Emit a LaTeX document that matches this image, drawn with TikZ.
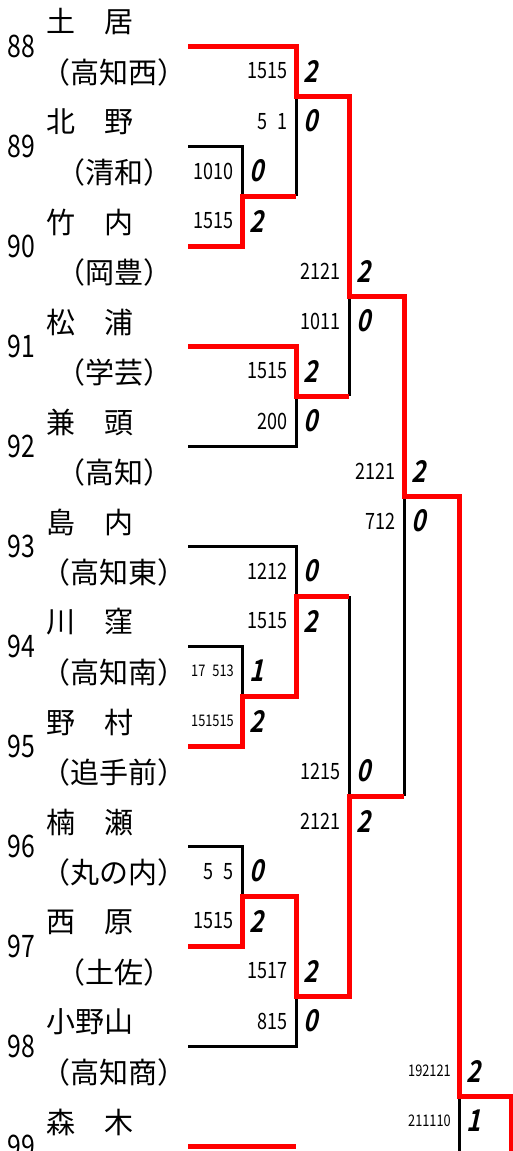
\documentclass[tikz,border=0pt]{standalone}
\usepackage{fontspec}
\setmainfont{Noto Sans CJK JP}
\newfontfamily\numfont[FakeStretch=0.8]{Noto Sans CJK JP}
\newfontfamily\pointfont[FakeSlant=0.22,FakeStretch=0.8]{Noto Sans CJK JP Bold}
\begin{document}
\begin{tikzpicture}[x=1pt,y=-1pt,
    win/.style={red,line width=5pt},
    lose/.style={black,line width=3pt},
    seed/.style={inner sep=0pt,font=\numfont\fontsize{31}{31}\selectfont},
    player/.style={inner sep=0pt,anchor=west,font=\fontsize{29}{29}\selectfont},
    school/.style={inner sep=0pt,font=\fontsize{29}{29}\selectfont},
    game/.style={inner sep=0pt,anchor=east,font=\numfont\fontsize{22.5}{22.5}\selectfont},
    smallgame/.style={inner sep=0pt,anchor=east,font=\numfont\fontsize{16}{16}\selectfont},
    point/.style={inner sep=0pt,anchor=west,font=\pointfont\fontsize{30}{30}\selectfont}]

\useasboundingbox (0,0) rectangle (513,1151);
\clip (0,0) rectangle (513,1151);

% teams
	\node[seed] (num88) at (21,46) {88};
	\node[player] (name88) at (46,22) {土　居};
	\node[school] (sch88) at (114,72) {（高知西）};
	\node[seed] (num89) at (21,146) {89};
	\node[player] (name89) at (46,122) {北　野};
	\node[school] (sch89) at (114,172) {（清和）};
	\node[seed] (num90) at (21,246) {90};
	\node[player] (name90) at (46,222) {竹　内};
	\node[school] (sch90) at (114,272) {（岡豊）};
	\node[seed] (num91) at (21,346) {91};
	\node[player] (name91) at (46,322) {松　浦};
	\node[school] (sch91) at (114,372) {（学芸）};
	\node[seed] (num92) at (21,446) {92};
	\node[player] (name92) at (46,422) {兼　頭};
	\node[school] (sch92) at (114,472) {（高知）};
	\node[seed] (num93) at (21,546) {93};
	\node[player] (name93) at (46,522) {島　内};
	\node[school] (sch93) at (114,572) {（高知東）};
	\node[seed] (num94) at (21,646) {94};
	\node[player] (name94) at (46,622) {川　窪};
	\node[school] (sch94) at (114,672) {（高知南）};
	\node[seed] (num95) at (21,746) {95};
	\node[player] (name95) at (46,722) {野　村};
	\node[school] (sch95) at (114,772) {（追手前）};
	\node[seed] (num96) at (21,846) {96};
	\node[player] (name96) at (46,822) {楠　瀬};
	\node[school] (sch96) at (114,872) {（丸の内）};
	\node[seed] (num97) at (21,946) {97};
	\node[player] (name97) at (46,922) {西　原};
	\node[school] (sch97) at (114,972) {（土佐）};
	\node[seed] (num98) at (21,1046) {98};
	\node[player] (name98) at (46,1022) {小野山};
	\node[school] (sch98) at (114,1072) {（高知商）};
	\node[seed] (num99) at (21,1146) {99};
	\node[player] (name99) at (46,1122) {森　木};

% losers
	\draw[lose] (188,146) -- (242,146) -- (242,196);
	\draw[lose] (296,196) -- (296,96);
	\draw[lose] (188,446) -- (296,446) -- (296,396);
	\draw[lose] (349,396) -- (349,296);
	\draw[lose] (188,546) -- (296,546) -- (296,596);
	\draw[lose] (188,646) -- (242,646) -- (242,696);
	\draw[lose] (349,596) -- (349,796);
	\draw[lose] (404,796) -- (404,496);
	\draw[lose] (188,846) -- (242,846) -- (242,896);
	\draw[lose] (188,1046) -- (296,1046) -- (296,996);
	\draw[lose] (459,1096) -- (459,1160);

% winners
	\draw[win] (188,46) -- (296,46) -- (296,96) -- (349,96) -- (349,296) -- (404,296) -- (404,496) -- (459,496) -- (459,1096) -- (511,1096) -- (511,1160);
	\draw[win] (188,246) -- (242,246) -- (242,196) -- (296,196);
	\draw[win] (188,346) -- (296,346) -- (296,396) -- (349,396);
	\draw[win] (188,746) -- (242,746) -- (242,696) -- (296,696) -- (296,596) -- (349,596);
	\draw[win] (188,946) -- (242,946) -- (242,896) -- (296,896) -- (296,996) -- (349,996) -- (349,796) -- (404,796);
	\draw[win] (188,1146) -- (296,1146);

% scores
	\node[game] (g1a) at (234,171) {1010};
	\node[point] (p1a) at (249,171) {0};
	\node[game] (g1b) at (234,221) {1515};
	\node[point] (p1b) at (249,221) {2};
	\node[smallgame] (g2a) at (234,671) {17\phantom{0}513};
	\node[point] (p2a) at (249,671) {1};
	\node[smallgame] (g2b) at (234,721) {151515};
	\node[point] (p2b) at (249,721) {2};
	\node[game] (g3a) at (234,871) {5\phantom{0}5};
	\node[point] (p3a) at (249,871) {0};
	\node[game] (g3b) at (234,921) {1515};
	\node[point] (p3b) at (249,921) {2};

	\node[game] (g4a) at (288,71) {1515};
	\node[point] (p4a) at (303,71) {2};
	\node[game] (g4b) at (288,121) {5\phantom{0}1};
	\node[point] (p4b) at (303,121) {0};
	\node[game] (g5a) at (288,371) {1515};
	\node[point] (p5a) at (303,371) {2};
	\node[game] (g5b) at (288,421) {200};
	\node[point] (p5b) at (303,421) {0};
	\node[game] (g6a) at (288,571) {1212};
	\node[point] (p6a) at (303,571) {0};
	\node[game] (g6b) at (288,621) {1515};
	\node[point] (p6b) at (303,621) {2};
	\node[game] (g7a) at (288,971) {1517};
	\node[point] (p7a) at (303,971) {2};
	\node[game] (g7b) at (288,1021) {815};
	\node[point] (p7b) at (303,1021) {0};

	\node[game] (g8a) at (341,271) {2121};
	\node[point] (p8a) at (356,271) {2};
	\node[game] (g8b) at (341,321) {1011};
	\node[point] (p8b) at (356,321) {0};
	\node[game] (g9a) at (341,771) {1215};
	\node[point] (p9a) at (356,771) {0};
	\node[game] (g9b) at (341,821) {2121};
	\node[point] (p9b) at (356,821) {2};

	\node[game] (g10a) at (396,471) {2121};
	\node[point] (p10a) at (411,471) {2};
	\node[game] (g10b) at (396,521) {712};
	\node[point] (p10b) at (411,521) {0};

	\node[smallgame] (g11a) at (451,1071) {192121};
	\node[point] (p11a) at (466,1071) {2};
	\node[smallgame] (g11b) at (451,1121) {211110};
	\node[point] (p11b) at (466,1121) {1};

\end{tikzpicture}
\end{document}
